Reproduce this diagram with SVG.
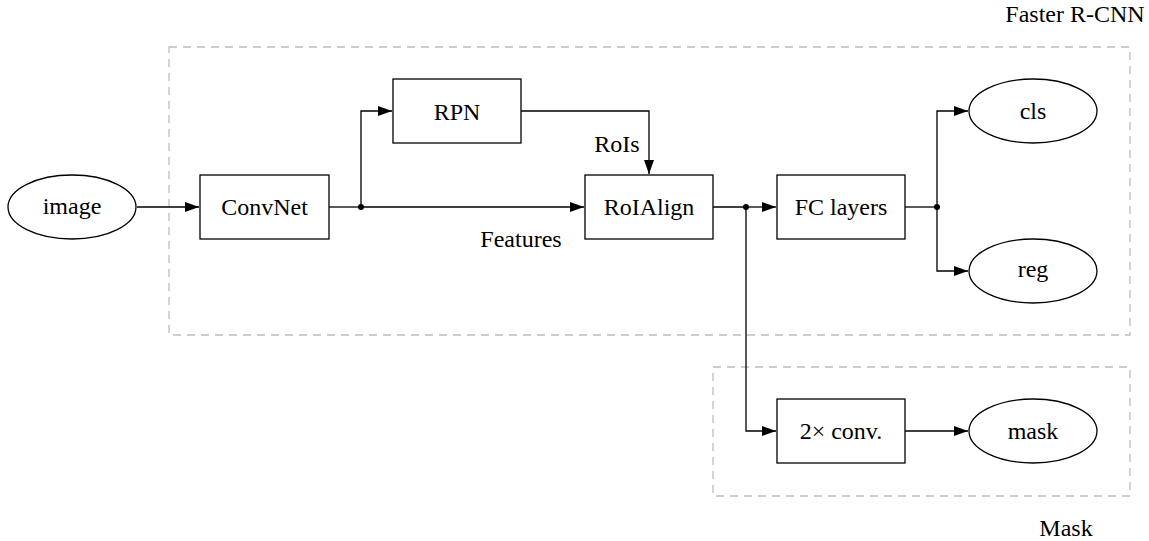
<svg xmlns="http://www.w3.org/2000/svg" width="1149" height="541" viewBox="0 0 1149 541" font-family="'Liberation Serif', 'Times New Roman', 'DejaVu Serif', serif">
<style>
text{font-family:'Liberation Serif','Times New Roman','DejaVu Serif',serif;font-size:24px;fill:#000;text-anchor:middle}
.n{fill:#fff;stroke:#000;stroke-width:1.3}
.c{fill:none;stroke:#000;stroke-width:1.3}
.cl{fill:none;stroke:#bdbdbd;stroke-width:1.3;stroke-dasharray:8 6}
</style>
<defs>
<marker id="a" markerUnits="userSpaceOnUse" markerWidth="15" markerHeight="11" refX="14" refY="5" orient="auto"><path d="M0,0 L14,5 L0,10 z" fill="#000"/></marker>
</defs>
<g id="cluster-faster">
<rect class="cl" x="169" y="47" width="961" height="288"/>
<text x="1075" y="22">Faster R-CNN</text>
</g>
<g id="cluster-mask">
<rect class="cl" x="713" y="367" width="417" height="129"/>
<text x="1066" y="536">Mask</text>
</g>
<g id="connectors">
<path class="c" d="M137,207 H199" marker-end="url(#a)"/>
<path class="c" d="M329,207 H361"/>
<path class="c" d="M361,207 V111 H392" marker-end="url(#a)"/>
<path class="c" d="M361,207 H584" marker-end="url(#a)"/>
<path class="c" d="M521,111 H649 V174" marker-end="url(#a)"/>
<path class="c" d="M713,207 H746"/>
<path class="c" d="M746,207 H776" marker-end="url(#a)"/>
<path class="c" d="M746,207 V431 H776" marker-end="url(#a)"/>
<path class="c" d="M905,207 H937"/>
<path class="c" d="M937,207 V111 H968" marker-end="url(#a)"/>
<path class="c" d="M937,207 V271 H968" marker-end="url(#a)"/>
<path class="c" d="M905,431 H968" marker-end="url(#a)"/>
<circle cx="361" cy="207" r="3"/>
<circle cx="746" cy="207" r="3"/>
<circle cx="937" cy="207" r="3"/>
<text x="617" y="152">RoIs</text>
<text x="521" y="247">Features</text>
</g>
<g id="image"><ellipse class="n" cx="72" cy="207" rx="64" ry="32"/><text x="72" y="214">image</text></g>
<g id="convnet"><rect class="n" x="200" y="175" width="129" height="64"/><text x="264.5" y="215">ConvNet</text></g>
<g id="rpn"><rect class="n" x="393" y="79" width="128" height="64"/><text x="457" y="120">RPN</text></g>
<g id="roialign"><rect class="n" x="585" y="175" width="128" height="64"/><text x="649" y="215">RoIAlign</text></g>
<g id="fc"><rect class="n" x="777" y="175" width="128" height="64"/><text x="841" y="215">FC layers</text></g>
<g id="cls"><ellipse class="n" cx="1033" cy="111" rx="64" ry="32"/><text x="1033" y="119">cls</text></g>
<g id="reg"><ellipse class="n" cx="1033" cy="271" rx="64" ry="32"/><text x="1033" y="277">reg</text></g>
<g id="conv"><rect class="n" x="777" y="399" width="128" height="64"/><text x="841" y="439">2× conv.</text></g>
<g id="mask"><ellipse class="n" cx="1033" cy="431" rx="64" ry="32"/><text x="1033" y="439">mask</text></g>
</svg>
